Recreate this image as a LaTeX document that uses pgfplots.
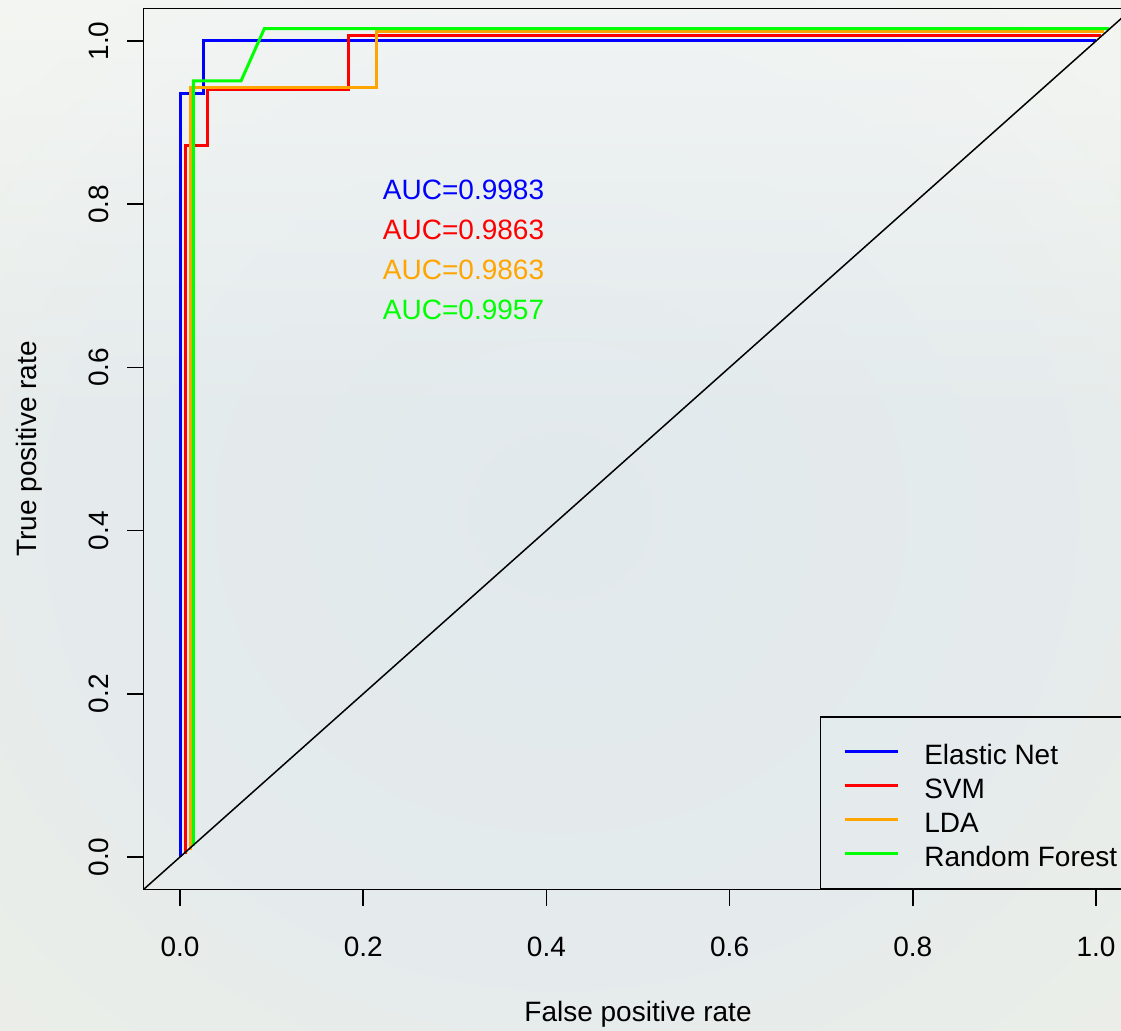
\documentclass[border=0pt]{standalone}
\usepackage{fontspec}
\setmainfont{Liberation Sans}
\usepackage{pgfplots}
\pgfplotsset{compat=1.18}
\usetikzlibrary{fadings}
\definecolor{rBlue}{RGB}{0,0,255}
\definecolor{rRed}{RGB}{255,0,0}
\definecolor{rOrange}{RGB}{255,165,0}
\definecolor{rGreen}{RGB}{0,255,0}
\pgfdeclareradialshading{devbg}{\pgfpoint{0bp}{0bp}}{%
  rgb(0bp)=(0.886,0.914,0.929); rgb(22bp)=(0.898,0.922,0.925);
  rgb(45bp)=(0.94,0.945,0.895); rgb(70bp)=(0.965,0.957,0.89)}
\newcommand{\rfont}{\fontsize{14}{16.8}\selectfont}

\begin{document}
\begin{tikzpicture}
% page background (reference is a slightly cropped R device)
\path[shading=devbg] (-71.7pt,-70.2pt) rectangle (488.8pt,444.8pt);
\fill[white, opacity=0.45, path fading=south] (-71.7pt,230pt) rectangle (488.8pt,444.8pt);

\begin{axis}[
 at={(0,0)}, anchor=south west, scale only axis,
 width=494.64pt, height=440.64pt,
 xmin=-0.04, xmax=1.04, ymin=-0.04, ymax=1.04,
 axis line style={black, line width=0.8pt},
 xtick={0,0.2,0.4,0.6,0.8,1}, ytick={0,0.2,0.4,0.6,0.8,1},
 xtick pos=left, ytick pos=left,
 tick align=outside, major tick length=8pt,
 tick style={black, line width=0.8pt},
 /pgf/number format/.cd, fixed, fixed zerofill, precision=1, assume math mode=true,
 /pgfplots/.cd,
 tick label style={font=\rfont, inner sep=0pt},
 xticklabel style={anchor=base, yshift=-25.5pt},
 yticklabel style={xshift=-9.5pt, rotate=90, anchor=base},
 xlabel={False positive rate}, ylabel={True positive rate},
 xlabel style={at={(axis description cs:0.5,-0.150)}, anchor=base, inner sep=0pt, font=\rfont},
 ylabel style={at={(axis description cs:-0.1077,0.5)}, anchor=base, inner sep=0pt, font=\rfont},
 legend style={at={(axis cs:1.04,-0.04)}, anchor=south east, draw=black, line width=0.8pt,
   fill=none, font=\rfont, inner xsep=7.3pt, inner ysep=9pt, row sep=0pt,
   nodes={inner sep=0pt, text height=14.7pt, text depth=2.3pt}},
 legend cell align=left,
 legend image code/.code={\path[draw=none] (-4.9pt,0pt) -- (39.8pt,0pt); \draw[#1] (0pt,0pt) -- (26.5pt,0pt);},
]
\addplot[rBlue, line width=1.5pt] coordinates {(0,0) (0,0.936) (0.026,0.936) (0.026,1.0) (1.0,1.0)};
\addplot[rRed, line width=1.5pt] coordinates {(0.0055,0.004) (0.0055,0.872) (0.030,0.872) (0.030,0.940) (0.184,0.940) (0.184,1.007) (1.0055,1.007)};
\addplot[rOrange, line width=1.5pt] coordinates {(0.011,0.009) (0.011,0.943) (0.2147,0.943) (0.2147,1.011) (1.009,1.011)};
\addplot[rGreen, line width=1.5pt] coordinates {(0.0146,0.0137) (0.0146,0.951) (0.0666,0.951) (0.092,1.015) (1.0142,1.015)};
\addplot[black, line width=0.75pt, forget plot] coordinates {(-0.04,-0.04) (1.04,1.04)};
\legend{Elastic Net, SVM, LDA, Random Forest}

\node[rBlue, anchor=base, font=\rfont] at (axis cs:0.3095,0.806) {AUC=0.9983};
\node[rRed, anchor=base, font=\rfont] at (axis cs:0.3095,0.757) {AUC=0.9863};
\node[rOrange, anchor=base, font=\rfont] at (axis cs:0.3095,0.708) {AUC=0.9863};
\node[rGreen, anchor=base, font=\rfont] at (axis cs:0.3095,0.659) {AUC=0.9957};
\end{axis}

\pgfresetboundingbox
\path[use as bounding box] (-71.7pt,-70.2pt) rectangle (488.8pt,444.8pt);
\end{tikzpicture}
\end{document}
